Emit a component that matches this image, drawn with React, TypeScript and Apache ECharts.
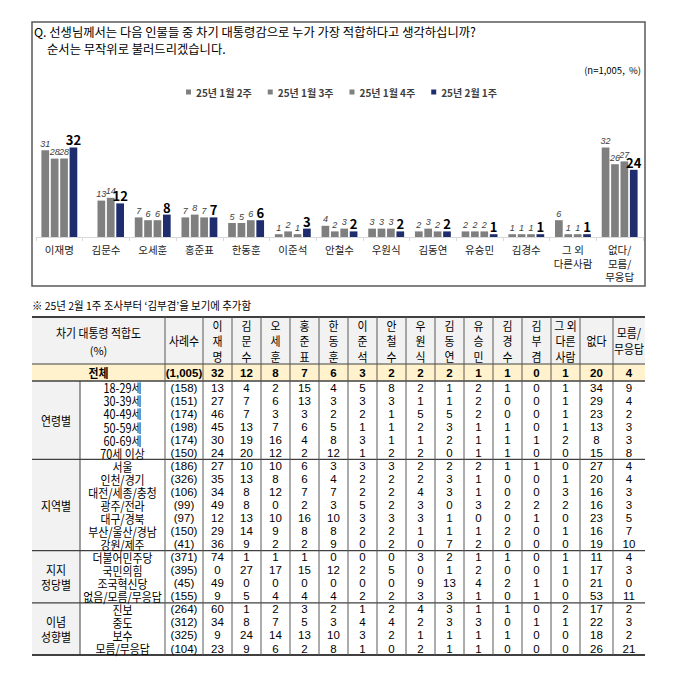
import React, { useEffect, useRef } from 'react';
import * as echarts from 'echarts';

const FONT = "'Noto Sans CJK KR', 'Noto Sans', sans-serif";
const NUMFONT = "'Liberation Sans', Arial, sans-serif";

// ---------- Bar chart data ----------
const categories = ['이재명', '김문수', '오세훈', '홍준표', '한동훈', '이준석', '안철수', '우원식', '김동연', '유승민', '김경수', '그 외\n다른사람', '없다/\n모름/\n무응답'];
const seriesNames = ['25년 1월 2주', '25년 1월 3주', '25년 1월 4주', '25년 2월 1주'];
const week1Jan2 = [31, null, 7, 7, 5, 1, 4, 3, 2, 2, 1, 6, 32];
const week1Jan3 = [28, 13, 6, 8, 5, 2, 2, 3, 3, 2, 1, 1, 26];
const week1Jan4 = [28, 14, 6, 7, 6, 1, 3, 3, 2, 2, 1, 1, 27];
const week2Feb1 = [32, 12, 8, 7, 6, 3, 2, 2, 2, 1, 1, 1, 24];

// ---------- Table data ----------
const tableColumns = ['이\n재\n명', '김\n문\n수', '오\n세\n훈', '홍\n준\n표', '한\n동\n훈', '이\n준\n석', '안\n철\n수', '우\n원\n식', '김\n동\n연', '유\n승\n민', '김\n경\n수', '김\n부\n겸', '그 외\n다른\n사람', '없다', '모름/\n무응답'];
const totalN = '(1,005)';
const totalValues = [32, 12, 8, 7, 6, 3, 2, 2, 2, 1, 1, 0, 1, 20, 4];

const ageLabels = ['18-29세', '30-39세', '40-49세', '50-59세', '60-69세', '70세 이상'];
const ageN = ['(158)', '(151)', '(174)', '(198)', '(174)', '(150)'];
const ageValues = [
  [13, 4, 2, 15, 4, 5, 8, 2, 1, 2, 1, 0, 1, 34, 9],
  [27, 7, 6, 13, 3, 3, 3, 1, 1, 2, 0, 0, 1, 29, 4],
  [46, 7, 3, 3, 2, 2, 1, 5, 5, 2, 0, 0, 1, 23, 2],
  [45, 13, 7, 6, 5, 1, 1, 2, 3, 1, 1, 0, 1, 13, 3],
  [30, 19, 16, 4, 8, 3, 1, 1, 2, 1, 1, 1, 2, 8, 3],
  [24, 20, 12, 2, 12, 1, 2, 2, 0, 1, 1, 0, 0, 15, 8],
];

const regionLabels = ['서울', '인천/경기', '대전/세종/충청', '광주/전라', '대구/경북', '부산/울산/경남', '강원/제주'];
const regionN = ['(186)', '(326)', '(106)', '(99)', '(97)', '(150)', '(41)'];
const regionValues = [
  [27, 10, 10, 6, 3, 3, 3, 2, 2, 2, 1, 1, 0, 27, 4],
  [35, 13, 8, 6, 4, 2, 2, 2, 3, 1, 0, 0, 1, 20, 4],
  [34, 8, 12, 7, 7, 2, 2, 4, 3, 1, 0, 0, 3, 16, 3],
  [49, 8, 0, 2, 3, 5, 2, 3, 0, 3, 2, 2, 2, 16, 3],
  [12, 13, 10, 16, 10, 3, 3, 3, 1, 0, 0, 1, 0, 23, 5],
  [29, 14, 9, 8, 8, 2, 2, 1, 1, 1, 2, 0, 1, 16, 7],
  [36, 9, 2, 2, 9, 0, 2, 0, 7, 2, 0, 0, 0, 19, 10],
];

const partyLabels = ['더불어민주당', '국민의힘', '조국혁신당', '없음/모름/무응답'];
const partyN = ['(371)', '(395)', '(45)', '(155)'];
const partyValues = [
  [74, 1, 1, 1, 0, 0, 0, 3, 2, 1, 1, 0, 1, 11, 4],
  [0, 27, 17, 15, 12, 2, 5, 0, 1, 2, 0, 0, 1, 17, 3],
  [49, 0, 0, 0, 0, 0, 0, 9, 13, 4, 2, 1, 0, 21, 0],
  [9, 5, 4, 4, 4, 2, 2, 3, 3, 1, 0, 1, 0, 53, 11],
];

const ideologyLabels = ['진보', '중도', '보수', '모름/무응답'];
const ideologyN = ['(264)', '(312)', '(325)', '(104)'];
const ideologyValues = [
  [60, 1, 2, 3, 2, 1, 2, 4, 3, 1, 1, 0, 2, 17, 2],
  [34, 8, 7, 5, 3, 4, 4, 2, 3, 3, 0, 1, 1, 22, 3],
  [9, 24, 14, 13, 10, 3, 2, 1, 1, 1, 1, 0, 0, 18, 2],
  [23, 9, 6, 2, 8, 1, 0, 2, 1, 1, 0, 0, 0, 26, 21],
];

const groupNames = ['연령별', '지역별', '지지\n정당별', '이념\n성향별'];

// ---------- Layout constants ----------
const GRAY = '#7f7f7f';
const NAVY = '#1f2d6e';
const TBL_L = 32;
const TBL_R = 645;
const COL_G = 80;
const COL_S = 165;
const dataEdges = [203, 232, 261, 290, 319, 348, 377, 406, 435, 464, 493, 522, 551, 580, 613, 645];
const HEAD_T = 317;
const HEAD_B = 364;
const TOT_B = 381;
const ROW_H = 13.05;
const KR_SX = 0.87;

function txt(text: string, x: number, y: number, o: any = {}) {
  return {
    type: 'text',
    x,
    y,
    silent: true,
    scaleX: o.sx ?? 1,
    z: 10,
    style: {
      text,
      fill: o.color ?? '#000',
      fontSize: o.size ?? 12,
      fontWeight: o.bold ? 'bold' : 'normal',
      fontStyle: o.italic ? 'italic' : 'normal',
      fontFamily: o.font ?? FONT,
      textAlign: o.align ?? 'center',
      align: o.align ?? 'center',
      textVerticalAlign: 'middle',
      verticalAlign: 'middle',
    },
  };
}

function line(x1: number, y1: number, x2: number, y2: number, w = 1, color = '#404040') {
  return {
    type: 'line',
    silent: true,
    z: 5,
    shape: { x1, y1, x2, y2 },
    style: { stroke: color, lineWidth: w },
  };
}

function rect(x: number, y: number, width: number, height: number, fill: string) {
  return { type: 'rect', silent: true, z: 1, shape: { x, y, width, height }, style: { fill } };
}

function buildTable() {
  const els: any[] = [];
  const groups = [
    { labels: ageLabels, n: ageN, values: ageValues },
    { labels: regionLabels, n: regionN, values: regionValues },
    { labels: partyLabels, n: partyN, values: partyValues },
    { labels: ideologyLabels, n: ideologyN, values: ideologyValues },
  ];
  const totalRows = groups.reduce((s, g) => s + g.labels.length, 0);
  const BODY_B = TOT_B + totalRows * ROW_H;

  // backgrounds
  els.push(rect(TBL_L, HEAD_T, TBL_R - TBL_L, HEAD_B - HEAD_T, '#f2f2f2'));
  els.push(rect(TBL_L, HEAD_B, TBL_R - TBL_L, TOT_B - HEAD_B, '#fff2cc'));
  els.push(rect(TBL_L, TOT_B, COL_G - TBL_L, BODY_B - TOT_B, '#f2f2f2'));

  // header texts
  const hc = (HEAD_T + HEAD_B) / 2;
  els.push(txt('차기 대통령 적합도', (TBL_L + COL_S) / 2, hc - 8, { sx: KR_SX, size: 12.5 }));
  els.push(txt('(%)', (TBL_L + COL_S) / 2, hc + 9, { size: 11 }));
  els.push(txt('사례수', (COL_S + dataEdges[0]) / 2, hc, { sx: KR_SX, size: 12.5 }));
  tableColumns.forEach((c, i) => {
    const parts = c.split('\n');
    const cx = (dataEdges[i] + dataEdges[i + 1]) / 2;
    const step = 15.8;
    parts.forEach((p, k) => {
      const y = hc + (k - (parts.length - 1) / 2) * step;
      els.push(txt(p, cx, y, { sx: KR_SX, size: 12.5 }));
    });
  });

  // total row
  const tc = (HEAD_B + TOT_B) / 2;
  els.push(txt('전체', (TBL_L + COL_S) / 2, tc, { bold: true, sx: KR_SX, size: 12.5 }));
  els.push(txt(totalN, (COL_S + dataEdges[0]) / 2, tc, { bold: true, size: 11.5, font: NUMFONT }));
  totalValues.forEach((v, i) => {
    els.push(txt(String(v), (dataEdges[i] + dataEdges[i + 1]) / 2, tc, { bold: true, size: 11.5, font: NUMFONT }));
  });

  // body rows
  let r = 0;
  const sepYs: number[] = [];
  groups.forEach((g, gi) => {
    const gTop = TOT_B + r * ROW_H;
    const gBot = gTop + g.labels.length * ROW_H;
    const gParts = groupNames[gi].split('\n');
    gParts.forEach((p, k) => {
      const y = (gTop + gBot) / 2 + (k - (gParts.length - 1) / 2) * 15;
      els.push(txt(p, (TBL_L + COL_G) / 2, y, { sx: KR_SX, size: 12.5 }));
    });
    g.labels.forEach((lab, li) => {
      const cy = TOT_B + (r + 0.5) * ROW_H;
      els.push(txt(lab, (COL_G + COL_S) / 2, cy, { sx: KR_SX, size: 12.5 }));
      els.push(txt(g.n[li], (COL_S + dataEdges[0]) / 2, cy, { size: 11.5, font: NUMFONT }));
      g.values[li].forEach((v, i) => {
        els.push(txt(String(v), (dataEdges[i] + dataEdges[i + 1]) / 2, cy, { size: 11.5, font: NUMFONT }));
      });
      r++;
    });
    if (gi < groups.length - 1) sepYs.push(gBot);
  });

  // lines
  els.push(line(TBL_L, HEAD_T, TBL_R, HEAD_T, 2, '#404040'));
  els.push(line(TBL_L, HEAD_B, TBL_R, HEAD_B, 1, '#404040'));
  els.push(line(TBL_L, TOT_B, TBL_R, TOT_B, 1.6, '#404040'));
  sepYs.forEach((y) => els.push(line(TBL_L, y, TBL_R, y, 1.2, '#404040')));
  els.push(line(TBL_L, BODY_B, TBL_R, BODY_B, 2, '#404040'));
  // verticals
  els.push(line(COL_G, TOT_B, COL_G, BODY_B, 1, '#404040'));
  const vx = [COL_S, ...dataEdges.slice(0, dataEdges.length - 1)];
  vx.forEach((x) => els.push(line(x, HEAD_T, x, BODY_B, 1, '#595959')));
  return els;
}

function buildOption() {
  const grayLabel = {
    show: true,
    position: 'top',
    distance: 2,
    fontSize: 9,
    fontStyle: 'italic',
    color: '#404040',
    fontFamily: NUMFONT,
  };
  const navyLabel = {
    show: true,
    position: 'top',
    distance: 1,
    fontSize: 13,
    fontWeight: 'bold',
    color: '#000',
    fontFamily: FONT,
  };
  const seriesData = [week1Jan2, week1Jan3, week1Jan4, week2Feb1];
  const series = seriesData.map((d, i) => ({
    name: seriesNames[i],
    type: 'bar',
    data: d.map((v) => (v === null ? '-' : v)),
    barWidth: 7.7,
    barGap: '22%',
    itemStyle: { color: i === 3 ? NAVY : GRAY },
    label: i === 3 ? navyLabel : grayLabel,
  }));

  const graphic: any[] = [
    {
      type: 'rect',
      silent: true,
      z: 0,
      shape: { x: 32, y: 22, width: 613, height: 264 },
      style: { fill: 'transparent', stroke: '#595959', lineWidth: 1.5 },
    },
    txt('Q. 선생님께서는 다음 인물들 중 차기 대통령감으로 누가 가장 적합하다고 생각하십니까?', 34, 32, { align: 'left', size: 12.3 }),
    txt('순서는 무작위로 불러드리겠습니다.', 47, 49, { align: 'left', size: 12.3 }),
    txt('(n=1,005,  %)', 641, 70, { align: 'right', size: 9.5 }),
    txt('※ 25년 2월 1주 조사부터 ‘김부겸’을 보기에 추가함', 32, 305, { align: 'left', size: 11, sx: 0.95 }),
    ...buildTable(),
  ];

  return {
    animation: false,
    backgroundColor: '#ffffff',
    textStyle: { fontFamily: FONT },
    legend: {
      top: 82,
      left: 181,
      icon: 'rect',
      itemWidth: 5,
      itemHeight: 5,
      itemGap: 16,
      data: seriesNames,
      textStyle: { fontSize: 10, fontWeight: 'bold', color: '#404040', fontFamily: FONT },
    },
    grid: { left: 36, top: 125, width: 607, height: 112, containLabel: false },
    xAxis: {
      type: 'category',
      data: categories,
      axisLine: { show: true, lineStyle: { color: '#d9d9d9', width: 1 } },
      axisTick: { show: true, length: 4, lineStyle: { color: '#d9d9d9' } },
      axisLabel: { interval: 0, fontSize: 10.5, color: '#1a1a1a', lineHeight: 13.5, margin: 6, fontFamily: FONT },
    },
    yAxis: { type: 'value', min: 0, max: 40, show: false, splitLine: { show: false } },
    series,
    graphic,
  };
}

export default function App() {
  const ref = useRef<HTMLDivElement>(null);
  useEffect(() => {
    if (!ref.current) return;
    const chart = echarts.init(ref.current, null, { renderer: 'svg' });
    chart.setOption(buildOption() as any);
    return () => chart.dispose();
  }, []);
  return (
    <div
      ref={ref}
      style={{ position: 'fixed', left: 0, top: 0, width: 673, height: 679, background: '#fff' }}
    />
  );
}
